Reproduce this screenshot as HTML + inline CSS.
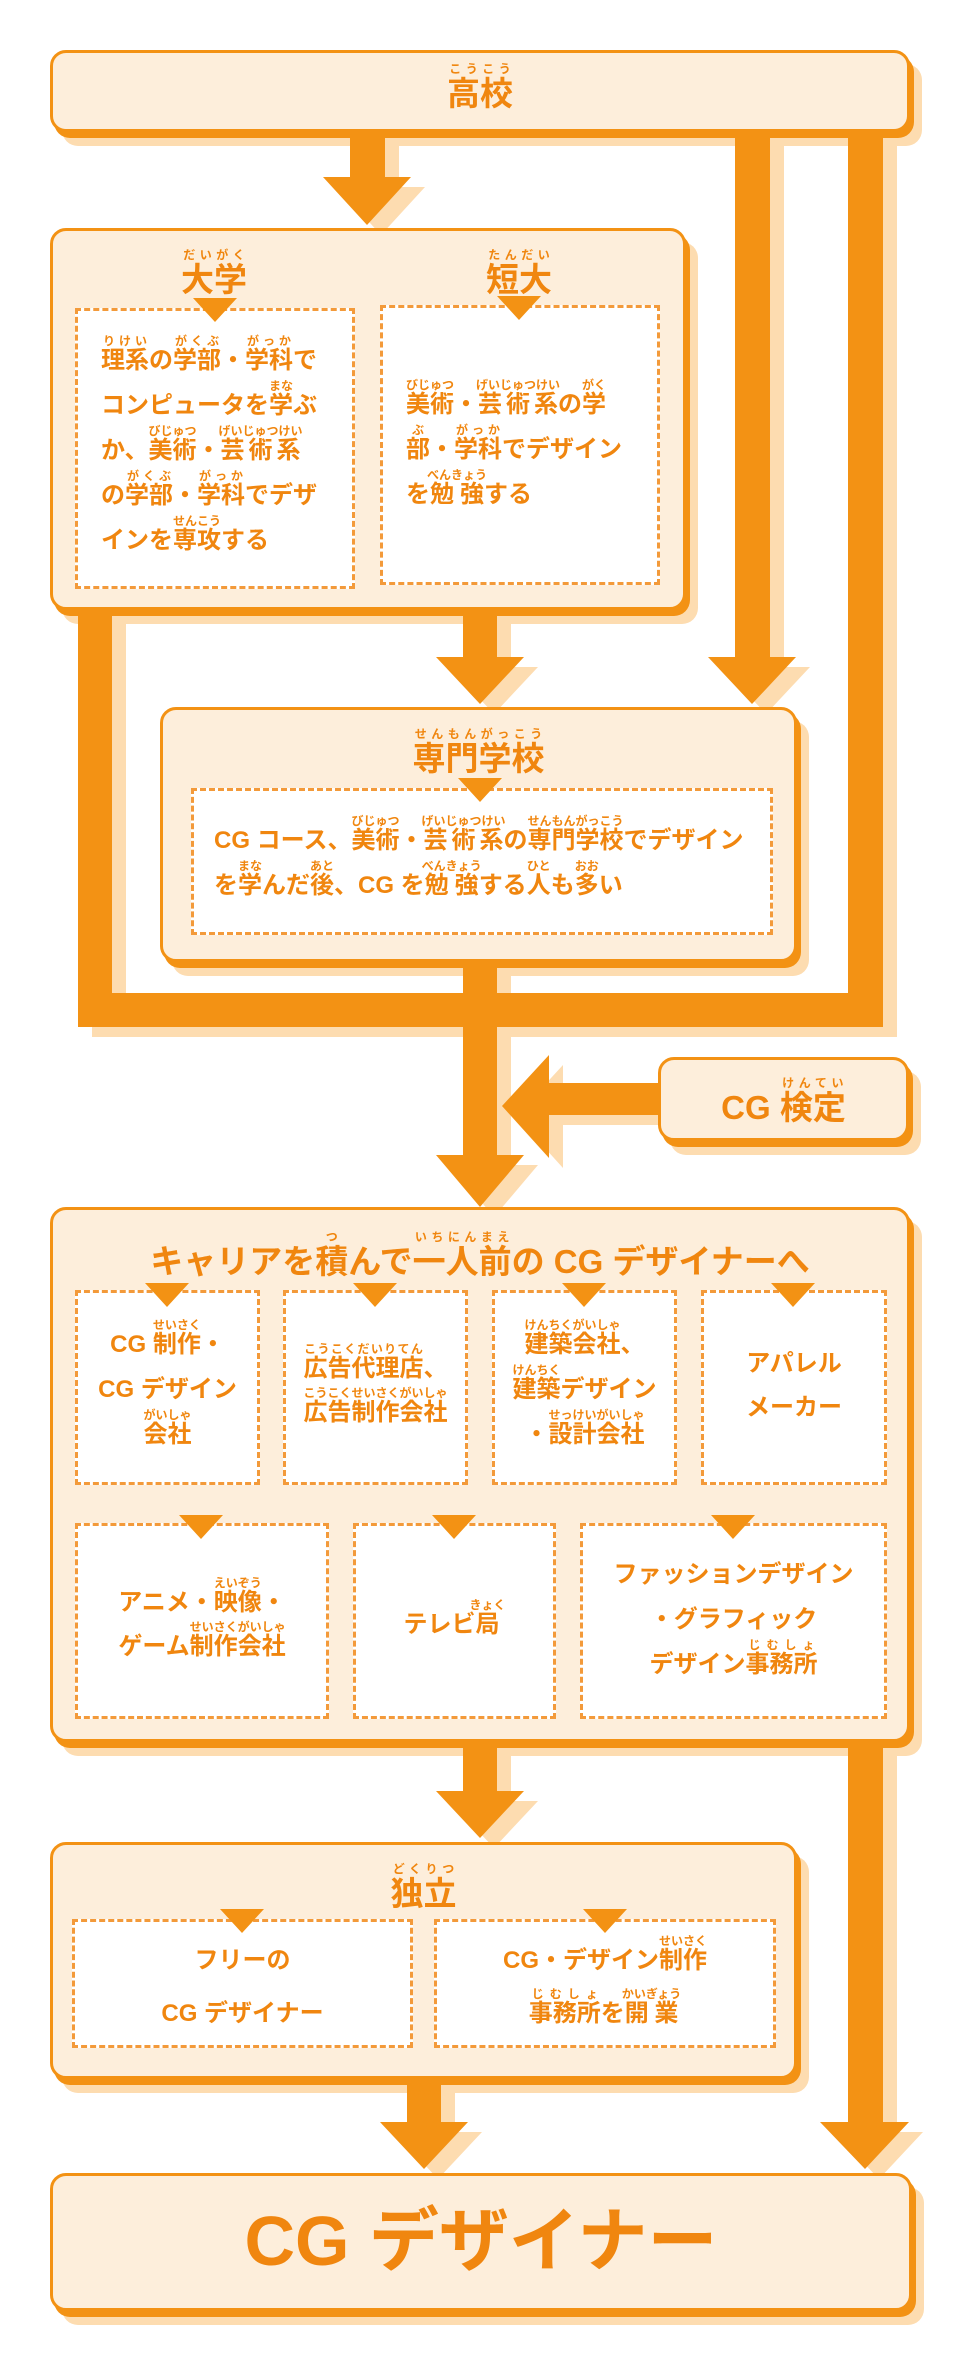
<!DOCTYPE html>
<html><head><meta charset="utf-8">
<style>
*{margin:0;padding:0;box-sizing:border-box}
body{width:960px;height:2360px;background:#fff;position:relative;overflow:hidden;
font-family:"Liberation Sans","Noto Sans CJK JP",sans-serif;color:#f0860f;font-weight:bold}
svg.bg{position:absolute;left:0;top:0}
svg.fg{position:absolute;left:0;top:0;z-index:2}
.box{position:absolute;background:#fdeedb;border:3px solid #f39214;border-radius:16px;
box-shadow:4px 6px 0 #f39214,12px 14px 0 #fddcb0}
.dash{position:absolute;background:#fff;border:3px dashed #f39a3a}
.tri{position:absolute;width:0;height:0;border-left:22px solid transparent;border-right:22px solid transparent;border-top:24px solid #f39214}
.t{position:absolute;text-align:center;white-space:nowrap}
.title{font-size:33px;line-height:40px}
.body{font-size:24px;line-height:45px}
rt{font-size:12px;font-weight:bold;color:#f0860f}
ruby{ruby-position:over}
</style></head><body>
<svg class="bg" width="960" height="2360">
<g fill="#fddcb0" transform="translate(14,10)">
<rect x="350" y="132" width="35" height="50"/><polygon points="323,177 411,177 367,225"/>
<rect x="735" y="120" width="35" height="540"/><polygon points="708,657 796,657 752,704"/>
<rect x="848" y="120" width="35" height="907"/>
<rect x="78" y="993" width="805" height="34"/>
<rect x="78" y="600" width="34" height="427"/>
<rect x="463" y="600" width="34" height="60"/><polygon points="436,657 524,657 480,704"/>
<rect x="463" y="950" width="34" height="210"/><polygon points="436,1155 524,1155 480,1207"/>
<rect x="540" y="1083" width="118" height="32"/><polygon points="549,1055 549,1158 502,1106"/>
<rect x="463" y="1735" width="34" height="60"/><polygon points="436,1791 524,1791 480,1838"/>
<rect x="407" y="2070" width="34" height="55"/><polygon points="380,2122 468,2122 424,2169"/>
<rect x="848" y="1735" width="35" height="390"/><polygon points="820,2122 909,2122 865,2169"/>
</g>
</svg>
<svg class="fg" width="960" height="2360">
<g fill="#f39214">
<rect x="350" y="133" width="35" height="49"/><polygon points="323,177 411,177 367,225"/>
<rect x="735" y="133" width="35" height="527"/><polygon points="708,657 796,657 752,704"/>
<rect x="848" y="133" width="35" height="894"/>
<rect x="78" y="993" width="805" height="34"/>
<rect x="78" y="611" width="34" height="416"/>
<rect x="463" y="611" width="34" height="49"/><polygon points="436,657 524,657 480,704"/>
<rect x="463" y="963" width="34" height="197"/><polygon points="436,1155 524,1155 480,1207"/>
<rect x="540" y="1083" width="118" height="32"/><polygon points="549,1055 549,1158 502,1106"/>
<rect x="463" y="1743" width="34" height="52"/><polygon points="436,1791 524,1791 480,1838"/>
<rect x="407" y="2080" width="34" height="45"/><polygon points="380,2122 468,2122 424,2169"/>
<rect x="848" y="1743" width="35" height="382"/><polygon points="820,2122 909,2122 865,2169"/>
</g>
</svg>

<!-- 高校 -->
<div class="box" style="left:50px;top:50px;width:860px;height:82px"></div>
<div class="t title" style="left:50px;width:860px;top:62px"><ruby>高校<rt>こうこう</rt></ruby></div>

<!-- 大学/短大 -->
<div class="box" style="left:50px;top:228px;width:636px;height:382px"></div>
<div class="t title" style="left:114px;width:200px;top:248px"><ruby>大学<rt>だいがく</rt></ruby></div>
<div class="t title" style="left:419px;width:200px;top:248px"><ruby>短大<rt>たんだい</rt></ruby></div>
<div class="dash" style="left:75px;top:308px;width:280px;height:281px"></div>
<div class="dash" style="left:380px;top:305px;width:280px;height:280px"></div>
<div class="tri" style="left:193px;top:298px"></div>
<div class="tri" style="left:497px;top:296px"></div>
<div class="t body" style="left:101px;top:334px;text-align:left">
<ruby>理系<rt>りけい</rt></ruby>の<ruby>学部<rt>がくぶ</rt></ruby>・<ruby>学科<rt>がっか</rt></ruby>で<br>
コンピュータを<ruby>学<rt>まな</rt></ruby>ぶ<br>
か、<ruby>美術<rt>びじゅつ</rt></ruby>・<ruby>芸術系<rt>げいじゅつけい</rt></ruby><br>
の<ruby>学部<rt>がくぶ</rt></ruby>・<ruby>学科<rt>がっか</rt></ruby>でデザ<br>
インを<ruby>専攻<rt>せんこう</rt></ruby>する</div>
<div class="t body" style="left:406px;top:378px;text-align:left">
<ruby>美術<rt>びじゅつ</rt></ruby>・<ruby>芸術系<rt>げいじゅつけい</rt></ruby>の<ruby>学<rt>がく</rt></ruby><br>
<ruby>部<rt>ぶ</rt></ruby>・<ruby>学科<rt>がっか</rt></ruby>でデザイン<br>
を<ruby>勉強<rt>べんきょう</rt></ruby>する</div>

<!-- 専門学校 -->
<div class="box" style="left:160px;top:707px;width:637px;height:255px"></div>
<div class="t title" style="left:160px;width:637px;top:727px"><ruby>専門学校<rt>せんもんがっこう</rt></ruby></div>
<div class="dash" style="left:191px;top:788px;width:582px;height:147px"></div>
<div class="tri" style="left:458px;top:778px"></div>
<div class="t body" style="left:214px;top:814px;text-align:left">CG コース、<ruby>美術<rt>びじゅつ</rt></ruby>・<ruby>芸術系<rt>げいじゅつけい</rt></ruby>の<ruby>専門学校<rt>せんもんがっこう</rt></ruby>でデザイン<br>
を<ruby>学<rt>まな</rt></ruby>んだ<ruby>後<rt>あと</rt></ruby>、CG を<ruby>勉強<rt>べんきょう</rt></ruby>する<ruby>人<rt>ひと</rt></ruby>も<ruby>多<rt>おお</rt></ruby>い</div>

<!-- CG検定 -->
<div class="box" style="left:658px;top:1057px;width:251px;height:84px"></div>
<div class="t title" style="left:658px;width:251px;top:1076px">CG <ruby>検定<rt>けんてい</rt></ruby></div>

<!-- Career -->
<div class="box" style="left:50px;top:1207px;width:860px;height:535px"></div>
<div class="t title" style="left:50px;width:860px;top:1230px">キャリアを<ruby>積<rt>つ</rt></ruby>んで<ruby>一人前<rt>いちにんまえ</rt></ruby>の CG デザイナーへ</div>
<div class="dash" style="left:75px;top:1290px;width:185px;height:195px"></div>
<div class="dash" style="left:283px;top:1290px;width:185px;height:195px"></div>
<div class="dash" style="left:492px;top:1290px;width:185px;height:195px"></div>
<div class="dash" style="left:701px;top:1290px;width:186px;height:195px"></div>
<div class="tri" style="left:145px;top:1283px"></div>
<div class="tri" style="left:353px;top:1283px"></div>
<div class="tri" style="left:562px;top:1283px"></div>
<div class="tri" style="left:771px;top:1283px"></div>
<div class="t body" style="left:75px;width:185px;top:1318px">CG <ruby>制作<rt>せいさく</rt></ruby>・<br>CG デザイン<br><ruby>会社<rt>がいしゃ</rt></ruby></div>
<div class="t body" style="left:283px;width:185px;top:1342px;line-height:44px"><ruby>広告代理店<rt>こうこくだいりてん</rt></ruby>、<br><ruby>広告制作会社<rt>こうこくせいさくがいしゃ</rt></ruby></div>
<div class="t body" style="left:492px;width:185px;top:1318px"><ruby>建築会社<rt>けんちくがいしゃ</rt></ruby>、<br><ruby>建築<rt>けんちく</rt></ruby>デザイン<br>・<ruby>設計会社<rt>せっけいがいしゃ</rt></ruby></div>
<div class="t body" style="left:701px;width:186px;top:1342px;line-height:44px">アパレル<br>メーカー</div>
<div class="dash" style="left:75px;top:1523px;width:254px;height:196px"></div>
<div class="dash" style="left:353px;top:1523px;width:203px;height:196px"></div>
<div class="dash" style="left:580px;top:1523px;width:307px;height:196px"></div>
<div class="tri" style="left:179px;top:1515px"></div>
<div class="tri" style="left:432px;top:1515px"></div>
<div class="tri" style="left:711px;top:1515px"></div>
<div class="t body" style="left:75px;width:254px;top:1576px;line-height:44px">アニメ・<ruby>映像<rt>えいぞう</rt></ruby>・<br>ゲーム<ruby>制作会社<rt>せいさくがいしゃ</rt></ruby></div>
<div class="t body" style="left:353px;width:203px;top:1598px">テレビ<ruby>局<rt>きょく</rt></ruby></div>
<div class="t body" style="left:580px;width:307px;top:1552px">ファッションデザイン<br>・グラフィック<br>デザイン<ruby>事務所<rt>じむしょ</rt></ruby></div>

<!-- 独立 -->
<div class="box" style="left:50px;top:1842px;width:747px;height:237px"></div>
<div class="t title" style="left:50px;width:747px;top:1862px"><ruby>独立<rt>どくりつ</rt></ruby></div>
<div class="dash" style="left:72px;top:1919px;width:341px;height:129px"></div>
<div class="dash" style="left:434px;top:1919px;width:342px;height:129px"></div>
<div class="tri" style="left:220px;top:1909px"></div>
<div class="tri" style="left:583px;top:1909px"></div>
<div class="t body" style="left:72px;width:341px;top:1934px;line-height:53px">フリーの<br>CG デザイナー</div>
<div class="t body" style="left:434px;width:342px;top:1934px;line-height:53px">CG・デザイン<ruby>制作<rt>せいさく</rt></ruby><br><ruby>事務所<rt>じむしょ</rt></ruby>を<ruby>開業<rt>かいぎょう</rt></ruby></div>

<!-- Final -->
<div class="box" style="left:50px;top:2173px;width:862px;height:138px"></div>
<div class="t" style="left:50px;width:862px;top:2198px;font-size:70px;line-height:86px">CG デザイナー</div>
</body></html>
